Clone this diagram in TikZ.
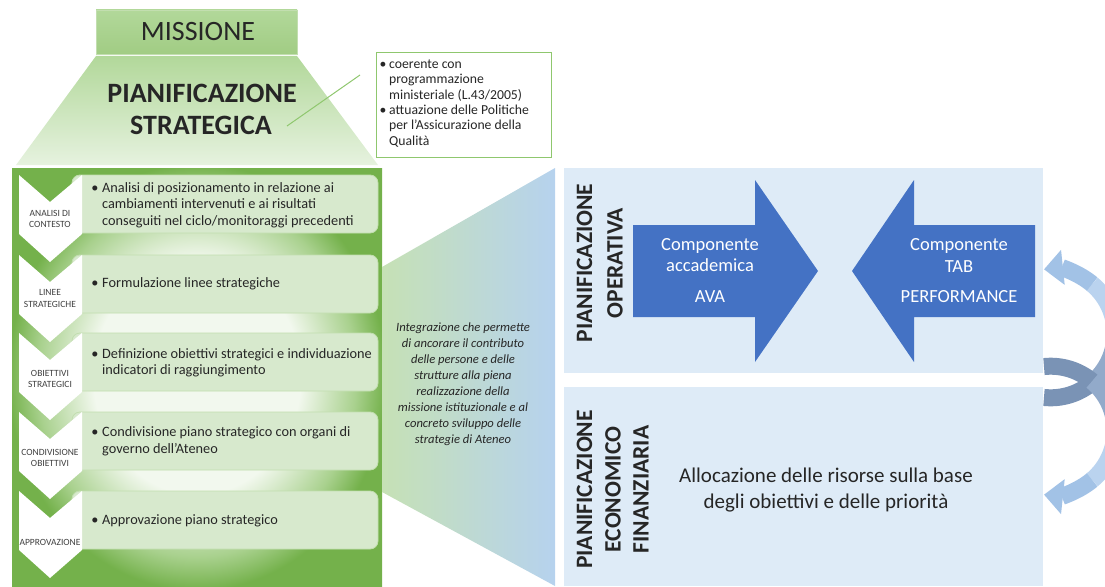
\documentclass[tikz,border=0pt]{standalone}
\usepackage{fontspec}
\setmainfont{Carlito}
\usetikzlibrary{arrows.meta}
\definecolor{ink}{HTML}{262626}
\definecolor{lab}{HTML}{404040}
\definecolor{gDark}{HTML}{74B14B}
\definecolor{gMid}{HTML}{A9D18E}
\definecolor{gTop}{HTML}{B2D89A}
\definecolor{gLight}{HTML}{E6F2DF}
\definecolor{gPale}{HTML}{F2F8EE}
\definecolor{gBox}{HTML}{D7E9CD}
\definecolor{gEdge}{HTML}{C2DEAF}
\definecolor{gMidL}{HTML}{C6E1B5}
\definecolor{bPanel}{HTML}{DEEBF7}
\definecolor{bArrow}{HTML}{4472C4}
\definecolor{bSoft}{HTML}{B6D2EE}
\definecolor{cDark}{HTML}{7A93B5}
\definecolor{cMid}{HTML}{92AACA}
\definecolor{cLight}{HTML}{A2C2E6}
\definecolor{cPale}{HTML}{BAD3EF}
\definecolor{callEdge}{HTML}{8FC76E}
\newcommand{\fsz}[2]{\fontsize{#1}{#2}\selectfont}
\pgfdeclareradialshading{panelshade}{\pgfpoint{0bp}{0bp}}{%
  color(0bp)=(gPale); color(14bp)=(gPale); color(21.5bp)=(gMid); color(25.5bp)=(gDark); color(50bp)=(gDark)}
\begin{document}
\begin{tikzpicture}[x=1pt,y=-1pt,
  every node/.style={inner sep=0pt,text=ink},
  ln/.style={anchor=base west},
  lc/.style={anchor=base},
  boxtxt/.style={ln,font=\fsz{14.3}{16}},
  boxbul/.style={lc,font=\fsz{14.3}{16}},
  chevlab/.style={font=\fsz{9.5}{10},text=lab},
  calltxt/.style={ln,font=\fsz{13.7}{15}},
  callbul/.style={lc,font=\fsz{13.7}{15}},
  midtxt/.style={lc,font=\fsz{12.6}{15}\itshape},
  arrtxt/.style={lc,font=\fsz{18.5}{21},text=white},
  vlab/.style={rotate=90,font=\fsz{23.5}{28}\bfseries},
  stepbox/.style={fill=gBox,draw=gEdge,line width=0.8pt,rounded corners=8pt},
  chevshape/.style={fill=white},
  panelst/.style={fill=bPanel},
  bigarrow/.style={fill=bArrow},
  cyc/.style={line width=17pt},
  tip/.style={-{Triangle[width=34pt,length=19pt]}}
]
\useasboundingbox (0,0) rectangle (1105,586);

% ---- mission and strategic trapezoid
\shade[top color=gTop, bottom color=gMid!85!gDark, draw=gEdge, line width=0.6pt] (96,10) rectangle (297,54);
\node[font=\fsz{28}{30}] (mis) at (198,32) {MISSIONE};
\shade[top color=gTop, bottom color=gLight] (96,56) -- (297,56) -- (378,165) -- (16,165) -- cycle;
\node[font=\fsz{28}{30}\bfseries] (ps1) at (202,93) {PIANIFICAZIONE};
\node[font=\fsz{28}{30}\bfseries] (ps2) at (201,125) {STRATEGICA};

% ---- callout
\draw[callEdge, line width=1pt, fill=white] (376,53) rectangle (551,157);
\coordinate (lnA) at (287,126);
\coordinate (lnB) at (360,75);
\draw[callEdge, line width=1pt] (lnA) -- (lnB);
\node[callbul] (cb1) at (383,68.3) {•};
\node[calltxt] (ct1) at (389,68.3) {coerente con};
\node[calltxt] (ct2) at (389,83.7) {programmazione};
\node[calltxt] (ct3) at (389,99.1) {ministeriale (L.43/2005)};
\node[callbul] (cb2) at (383,114.5) {•};
\node[calltxt] (ct4) at (389,114.5) {attuazione delle Politiche};
\node[calltxt] (ct5) at (389,129.9) {per l’Assicurazione della};
\node[calltxt] (ct6) at (389,145.3) {Qualità};

% ---- left green panel
\shade[shading=panelshade] (12,168) rectangle (382,586);
\foreach \t in {175,255,333,412,491}{
  \path[stepbox] (72,\t) rectangle (378,\t+58);
}
\foreach \t in {175,255,333,412,491}{
  \path[chevshape] (19,\t) -- (50,\t+27) -- (82,\t) -- (82,\t+59) -- (50,\t+87) -- (19,\t+59) -- cycle;
}
\node[chevlab] (l1a) at (50,213) {ANALISI DI};
\node[chevlab] (l1b) at (50,224) {CONTESTO};
\node[chevlab] (l2a) at (50,292) {LINEE};
\node[chevlab] (l2b) at (50,304) {STRATEGICHE};
\node[chevlab] (l3a) at (50,373) {OBIETTIVI};
\node[chevlab] (l3b) at (50,384) {STRATEGICI};
\node[chevlab] (l4a) at (50,452) {CONDIVISIONE};
\node[chevlab] (l4b) at (50,463) {OBIETTIVI};
\node[chevlab] (l5a) at (50,542) {APPROVAZIONE};

\node[boxbul] (bb1) at (95,192) {•};
\node[boxtxt] (b1a) at (102,192) {Analisi di posizionamento in relazione ai};
\node[boxtxt] (b1b) at (102,208.5) {cambiamenti intervenuti e ai risultati};
\node[boxtxt] (b1c) at (102,225) {conseguiti nel ciclo/monitoraggi precedenti};
\node[boxbul] (bb2) at (95,287) {•};
\node[boxtxt] (b2a) at (102,287) {Formulazione linee strategiche};
\node[boxbul] (bb3) at (95,358) {•};
\node[boxtxt] (b3a) at (102,358) {Definizione obiettivi strategici e individuazione};
\node[boxtxt] (b3b) at (102,374.5) {indicatori di raggiungimento};
\node[boxbul] (bb4) at (95,436.5) {•};
\node[boxtxt] (b4a) at (102,436.5) {Condivisione piano strategico con organi di};
\node[boxtxt] (b4b) at (102,453) {governo dell’Ateneo};
\node[boxbul] (bb5) at (95,524) {•};
\node[boxtxt] (b5a) at (102,524) {Approvazione piano strategico};

% ---- middle integration band
\shade[left color=gMidL, middle color=white, right color=bSoft] (382,267) -- (555,168) -- (555,586) -- (382,492) -- cycle;
\node[midtxt] (m1) at (463,331) {Integrazione che permette};
\node[midtxt] (m2) at (463,347) {di ancorare il contributo};
\node[midtxt] (m3) at (463,363) {delle persone e delle};
\node[midtxt] (m4) at (463,379.5) {strutture alla piena};
\node[midtxt] (m5) at (463,395.5) {realizzazione della};
\node[midtxt] (m6) at (463,411.5) {missione istituzionale e al};
\node[midtxt] (m7) at (463,427.5) {concreto sviluppo delle};
\node[midtxt] (m8) at (463,443.5) {strategie di Ateneo};

% ---- right panels
\path[panelst] (564,168) rectangle (1043,373);
\path[panelst] (564,387) rectangle (1043,586);
\node[vlab] (vo1) at (584.5,263) {PIANIFICAZIONE};
\node[vlab] (vo2) at (615,263) {OPERATIVA};
\node[vlab] (ve1) at (584.5,489.5) {PIANIFICAZIONE};
\node[vlab] (ve2) at (613,489.5) {ECONOMICO};
\node[vlab] (ve3) at (641,489.5) {FINANZIARIA};

\path[bigarrow] (633,225) -- (755,225) -- (755,180) -- (818,271) -- (755,362) -- (755,317) -- (633,317) -- cycle;
\path[bigarrow] (1035,225) -- (914,225) -- (914,180) -- (852,271) -- (914,362) -- (914,317) -- (1035,317) -- cycle;
\node[arrtxt] (a1) at (710,250.5) {Componente};
\node[arrtxt] (a2) at (710,271.5) {accademica};
\node[arrtxt] (a3) at (710,302) {AVA};
\node[arrtxt] (a4) at (959,250.5) {Componente};
\node[arrtxt] (a5) at (959,272) {TAB};
\node[arrtxt] (a6) at (959,302) {PERFORMANCE};

\node[lc,font=\fsz{21}{26}] (al1) at (826,482) {Allocazione delle risorse sulla base};
\node[lc,font=\fsz{21}{26}] (al2) at (826,508) {degli obiettivi e delle priorità};

% ---- circular arrows
\begin{scope}
\clip (0,0) rectangle (1105,586);
\coordinate (ca) at (1050.7,333.4);
\coordinate (cb) at (1050.7,430.6);
\draw[cyc,cDark] ([shift={(96:64.4)}]ca) arc[start angle=96,end angle=50,radius=64.4];
\draw[cyc,cMid] ([shift={(50:64.4)}]ca) arc[start angle=50,end angle=0,radius=64.4];
\draw[cyc,cPale] ([shift={(0:64.4)}]ca) arc[start angle=0,end angle=-50,radius=64.4];
\draw[cyc,cLight,tip] ([shift={(-50:64.4)}]ca) arc[start angle=-50,end angle=-96,radius=64.4];
\draw[cyc,cDark] ([shift={(-96:64.4)}]cb) arc[start angle=-96,end angle=-50,radius=64.4];
\draw[cyc,cMid] ([shift={(-50:64.4)}]cb) arc[start angle=-50,end angle=0,radius=64.4];
\draw[cyc,cPale] ([shift={(0:64.4)}]cb) arc[start angle=0,end angle=50,radius=64.4];
\draw[cyc,cLight,tip] ([shift={(50:64.4)}]cb) arc[start angle=50,end angle=96,radius=64.4];
\end{scope}
\end{tikzpicture}
\end{document}
